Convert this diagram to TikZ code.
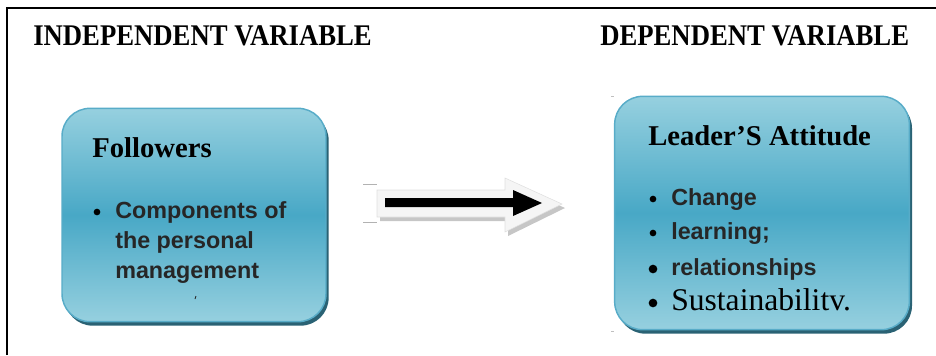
\documentclass[tikz,border=0pt]{standalone}
\usepackage{fontspec}
\setmainfont{Liberation Serif}
\newfontfamily\arialfont{Liberation Sans}
\newfontfamily\headfont[FakeStretch=0.89]{Liberation Serif}
\usetikzlibrary{shadows}

\definecolor{boxlight}{RGB}{150,208,223}
\definecolor{boxmid}{RGB}{72,168,198}
\definecolor{boxedge}{RGB}{88,172,200}
\definecolor{boxshadow}{RGB}{42,98,116}
\definecolor{ink}{RGB}{38,38,38}

\begin{document}
\begin{tikzpicture}[
  x=0.75pt, y=-0.75pt,
  varbox/.style={rounded corners=21pt, draw=boxedge, line width=1.1pt,
    top color=boxlight, bottom color=boxlight, middle color=boxmid,
    drop shadow={shadow xshift=2pt, shadow yshift=-3pt, fill=boxshadow, opacity=1}},
  heading/.style={anchor=base west, inner sep=0pt, font=\headfont\bfseries\fontsize{22.5}{27}\selectfont},
  boxtitle/.style={anchor=base west, inner sep=0pt, font=\bfseries\fontsize{21.5}{25}\selectfont},
  item/.style={anchor=base west, inner sep=0pt, text=ink, font=\arialfont\bfseries\fontsize{17.5}{21}\selectfont},
  dot/.style={circle, fill=black, inner sep=0pt, minimum size=#1}
]
\useasboundingbox (0,0) rectangle (936,355);

% frame
\draw[line width=1pt] (7,355) -- (7,8) -- (936,8);

% headings
\node[heading] (indep) at (33,45) {INDEPENDENT VARIABLE};
\node[heading] (dep) at (600,45) {DEPENDENT VARIABLE};

% independent variable box
\node[varbox, minimum width=198pt, minimum height=160pt] (follow) at (194,215) {};
\node[boxtitle] (followtitle) at (92,157) {Followers};
\node[dot=5pt] (fdot) at (97,212) {};
\node[item] (f1) at (115,218) {Components of};
\node[item] (f2) at (115,248) {the personal};
\node[item] (f3) at (115,278) {management};
\draw[ink, line width=0.6pt] (196,296) -- (195,299);

% dependent variable box
\node[varbox, minimum width=221pt, minimum height=175pt] (attitude) at (762,213) {};
\node[boxtitle] (atttitle) at (648,145) {Leader’S Attitude};
\node[dot=5pt] (d1) at (653,199) {};
\node[item] (a1) at (671,205) {Change};
\node[dot=5pt] (d2) at (653,233) {};
\node[item] (a2) at (671,239) {learning;};
\node[dot=6.5pt] (d3) at (653,269) {};
\node[item] (a3) at (671,275) {relationships};
\node[dot=6.5pt] (d4) at (653,303) {};
\node[anchor=base west, inner sep=0pt, font=\fontsize{23.7}{27}\selectfont] (a4) at (671,310) {Sustainabilitv.};
\draw[gray!50] (611,96) -- (614,96) (611,331) -- (614,331);

% block arrow
\coordinate (tail) at (377,204);
\coordinate (tip) at (562,204);
\fill[gray!45] ([shift={(3,4)}]tail) ++(0,-14) -- ++(128,0) -- ++(0,-12) -- ([shift={(3,4)}]tip)
  -- ++(-57,28) -- ++(0,-15) -- ++(-128,0) -- cycle;
\filldraw[fill=gray!8, draw=gray!25] (tail) ++(0,-14) -- ++(128,0) -- ++(0,-12) -- (tip)
  -- ++(-57,28) -- ++(0,-15) -- ++(-128,0) -- cycle;
\fill[black] (385,198) -- (513,198) -- (513,190) -- (542,203) -- (513,216) -- (513,207) -- (385,207) -- cycle;
\draw[gray!60] (363,184) -- (377,184) (363,222) -- (377,222);
\end{tikzpicture}
\end{document}
